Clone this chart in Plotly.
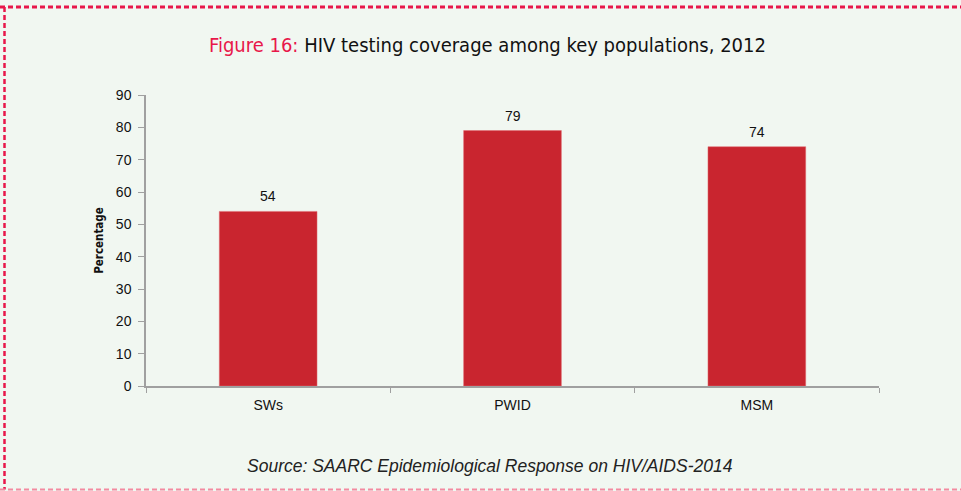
import plotly.graph_objects as go

categories = ["SWs", "PWID", "MSM"]
values = [54, 79, 74]
y_ticks = [0, 10, 20, 30, 40, 50, 60, 70, 80, 90]

BG = "#f1f7f1"
BAR = "#c9252f"
ACCENT = "#e8174a"
FONT = "Liberation Sans, Arial"
NARROW = "DejaVu Sans Condensed, Liberation Sans"

fig = go.Figure()
fig.add_trace(go.Bar(
    x=categories, y=values, width=0.4,
    marker=dict(color=BAR, line=dict(color="#e06a70", width=0.5)),
))
for c, v in zip(categories, values):
    fig.add_annotation(x=c, y=v, text=str(v), showarrow=False,
                       yanchor="middle", yshift=15,
                       font=dict(family=FONT, size=14, color="#111"))

fig.update_layout(
    width=961, height=491,
    paper_bgcolor=BG, plot_bgcolor=BG,
    margin=dict(l=146, r=82, t=95, b=105),
    showlegend=False,
    bargap=0.6,
    xaxis=dict(
        showline=True, linecolor="#a0a0a0", linewidth=1.5,
        ticks="outside", tickson="boundaries", ticklen=5, tickcolor="#a0a0a0",
        tickfont=dict(family=FONT, size=14, color="#111"),
        ticklabelstandoff=5,
        showgrid=False,
    ),
    yaxis=dict(
        range=[0, 90], tickvals=y_ticks,
        showline=True, linecolor="#a0a0a0", linewidth=1.5,
        ticks="outside", ticklen=6, tickcolor="#a0a0a0",
        tickfont=dict(family=FONT, size=14, color="#111"),
        ticklabelstandoff=4,
        showgrid=False, zeroline=False,
        title=dict(text="<b>Percentage</b>", standoff=10,
                   font=dict(family=NARROW, size=11.5, color="#111")),
    ),
)

fig.add_annotation(
    xref="paper", yref="paper", x=(487 - 146) / (961 - 146 - 82), y=1,
    yshift=50, xanchor="center", yanchor="middle", showarrow=False,
    text=f"<span style='color:{ACCENT}'>Figure 16:</span> HIV testing coverage among key populations, 2012",
    font=dict(family=NARROW, size=20, color="#111"),
)
fig.add_annotation(
    xref="paper", yref="paper", x=(490 - 146) / (961 - 146 - 82), y=0,
    yshift=-80, xanchor="center", yanchor="middle", showarrow=False,
    text="<i>Source: SAARC Epidemiological Response on HIV/AIDS-2014</i>",
    font=dict(family=FONT, size=17.5, color="#222"),
)

# dashed border around the figure
top_y = 1 + (95 - 7) / 291
bot_y = -(489.5 - 386) / 291
fig.add_shape(type="line", xref="paper", yref="paper",
              x0=-146/733, x1=(961-146)/733, y0=top_y, y1=top_y,
              line=dict(color=ACCENT, width=3, dash="5px,3px"))
fig.add_shape(type="line", xref="paper", yref="paper",
              x0=(4.5 - 146)/733, x1=(4.5 - 146)/733, y0=top_y, y1=bot_y,
              line=dict(color=ACCENT, width=2.5, dash="5px,3px"))
fig.add_shape(type="line", xref="paper", yref="paper",
              x0=-146/733, x1=(961-146)/733, y0=bot_y, y1=bot_y,
              line=dict(color="#f38aa0", width=2, dash="5px,3px"))

fig.write_html("out.html", config={"displayModeBar": False},
               post_script="document.body.style.margin='0';")
